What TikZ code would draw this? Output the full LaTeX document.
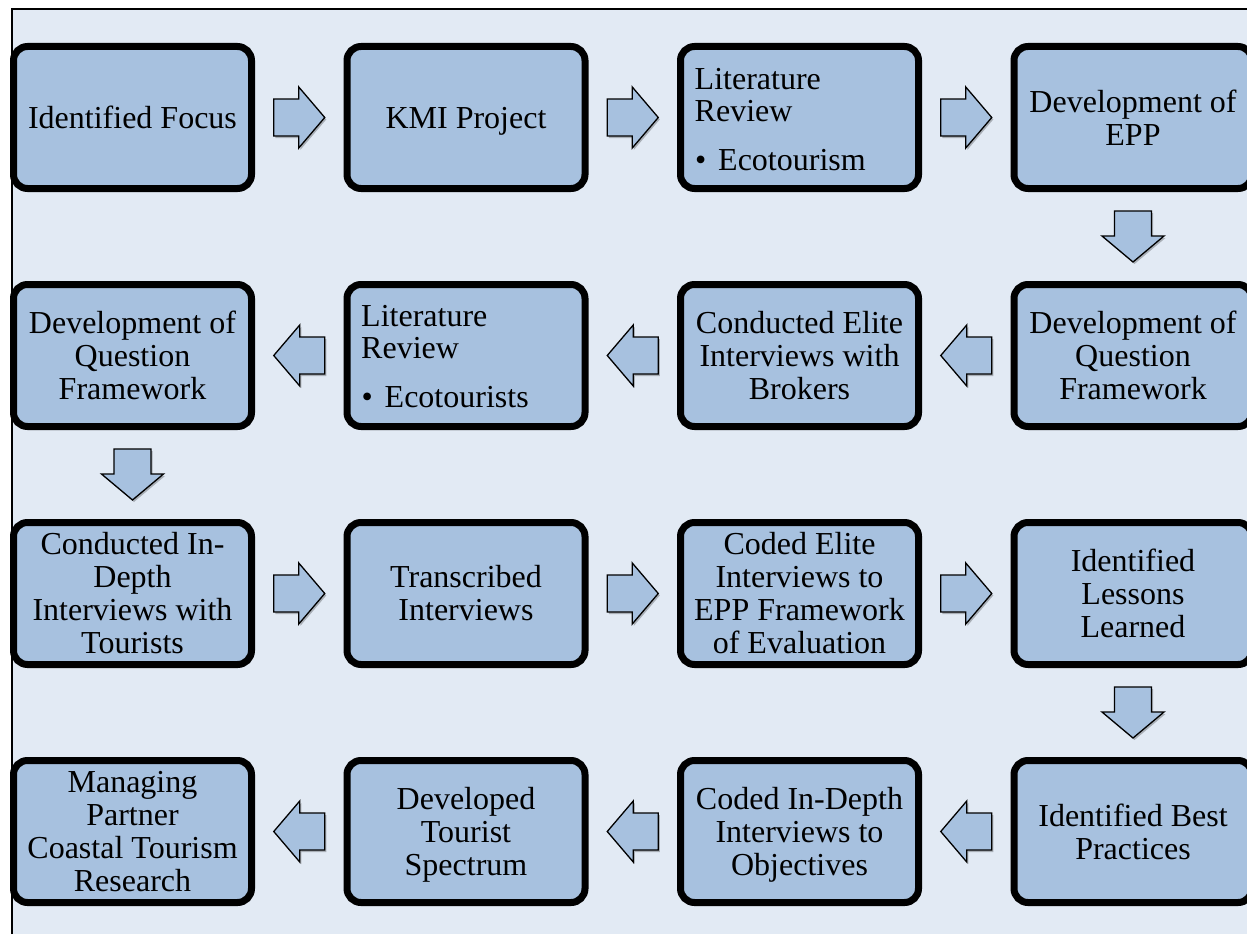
\documentclass[tikz,border=0pt]{standalone}
\usepackage{fontspec}
\setmainfont{Liberation Serif}
\usetikzlibrary{calc,shadows}
\definecolor{bgblue}{RGB}{226,234,244}
\definecolor{boxblue}{RGB}{167,193,223}
\tikzset{
  stepbox/.style={draw=black, line width=7pt, fill=boxblue, rounded corners=14pt,
    minimum width=238pt, minimum height=142pt, inner sep=1pt, align=center,
    font=\fontsize{32}{33}\selectfont,
    drop shadow={shadow xshift=2pt, shadow yshift=-3pt, opacity=0.25, fill=black}},
  littext/.style={anchor=base west, inner sep=0pt, font=\fontsize{32}{33}\selectfont},
  blockarrow/.style={draw=black, line width=1.3pt, fill=boxblue, line join=miter,
    drop shadow={shadow xshift=1.5pt, shadow yshift=-2pt, opacity=0.25, fill=black}},
}
\newcommand\rarrowat[1]{\draw[blockarrow, shift={(#1)}] (-25.5,-18.5) -- (-0.5,-18.5) -- (-0.5,-30.5) -- (25.5,0) -- (-0.5,30.5) -- (-0.5,18.5) -- (-25.5,18.5) -- cycle;}
\newcommand\larrowat[1]{\draw[blockarrow, shift={(#1)}] (25.5,-18.5) -- (0.5,-18.5) -- (0.5,-30.5) -- (-25.5,0) -- (0.5,30.5) -- (0.5,18.5) -- (25.5,18.5) -- cycle;}
\newcommand\darrowat[1]{\draw[blockarrow, shift={(#1)}] (-18.5,-25.5) -- (-18.5,-0.5) -- (-31,-0.5) -- (0,25.5) -- (31,-0.5) -- (18.5,-0.5) -- (18.5,-25.5) -- cycle;}
\begin{document}
\begin{tikzpicture}[x=1pt,y=-1pt]
\useasboundingbox (0,0) rectangle (1247,934);
\fill[white] (0,0) rectangle (1247,934);
\fill[bgblue] (12,9) rectangle (1247,934);
\draw[line width=1.2pt, black] (12,934) -- (12,9) -- (1247,9);
% row 1
\node[stepbox] (b11) at (132.5,117.5) {Identified Focus};
\node[stepbox, text depth=0pt] (b12) at (466,117.5) {KMI Project};
\node[stepbox] (b13) at (799.5,117.5) {};
\node[stepbox] (b14) at (1133,117.5) {Development of\\EPP};
% row 2
\node[stepbox] (b24) at (1133,355.5) {Development of\\Question\\Framework};
\node[stepbox] (b23) at (799.5,355.5) {Conducted Elite\\Interviews with\\Brokers};
\node[stepbox] (b22) at (466,355.5) {};
\node[stepbox] (b21) at (132.5,355.5) {Development of\\Question\\Framework};
% row 3
\node[stepbox] (b31) at (132.5,593.5) {Conducted In-\\Depth\\Interviews with\\Tourists};
\node[stepbox] (b32) at (466,593.5) {Transcribed\\Interviews};
\node[stepbox] (b33) at (799.5,593.5) {Coded Elite\\Interviews to\\EPP Framework\\of Evaluation};
\node[stepbox] (b34) at (1133,593.5) {Identified\\Lessons\\Learned};
% row 4
\node[stepbox] (b44) at (1133,831.5) {Identified Best\\Practices};
\node[stepbox, text depth=0pt] (b43) at (799.5,831.5) {Coded In-Depth\\Interviews to\\Objectives};
\node[stepbox, text depth=0pt] (b42) at (466,831.5) {Developed\\Tourist\\Spectrum};
\node[stepbox] (b41) at (132.5,831.5) {Managing\\Partner\\Coastal Tourism\\Research};
% literature review texts
\node[littext] (l13a) at ($(b13.north west)+(17.5,46)$) {Literature};
\node[littext] (l13b) at ($(b13.north west)+(17.5,78)$) {Review};
\node[littext] (l13c) at ($(b13.north west)+(18,127)$) {•};
\node[littext] (l13d) at ($(b13.north west)+(41,127)$) {Ecotourism};
\node[littext] (l22a) at ($(b22.north west)+(17.5,45)$) {Literature};
\node[littext] (l22b) at ($(b22.north west)+(17.5,77)$) {Review};
\node[littext] (l22c) at ($(b22.north west)+(18,126)$) {•};
\node[littext] (l22d) at ($(b22.north west)+(41,126)$) {Ecotourists};
% connector positions
\coordinate (a1112) at ($(b11.east)!0.5!(b12.west)$);
\coordinate (a1213) at ($(b12.east)!0.5!(b13.west)$);
\coordinate (a1314) at ($(b13.east)!0.5!(b14.west)$);
\coordinate (a1424) at ($(b14.south)!0.5!(b24.north)$);
\coordinate (a2423) at ($(b24.west)!0.5!(b23.east)$);
\coordinate (a2322) at ($(b23.west)!0.5!(b22.east)$);
\coordinate (a2221) at ($(b22.west)!0.5!(b21.east)$);
\coordinate (a2131) at ($(b21.south)!0.5!(b31.north)$);
\coordinate (a3132) at ($(b31.east)!0.5!(b32.west)$);
\coordinate (a3233) at ($(b32.east)!0.5!(b33.west)$);
\coordinate (a3334) at ($(b33.east)!0.5!(b34.west)$);
\coordinate (a3444) at ($(b34.south)!0.5!(b44.north)$);
\coordinate (a4443) at ($(b44.west)!0.5!(b43.east)$);
\coordinate (a4342) at ($(b43.west)!0.5!(b42.east)$);
\coordinate (a4241) at ($(b42.west)!0.5!(b41.east)$);
\rarrowat{a1112}
\rarrowat{a1213}
\rarrowat{a1314}
\darrowat{a1424}
\larrowat{a2423}
\larrowat{a2322}
\larrowat{a2221}
\darrowat{a2131}
\rarrowat{a3132}
\rarrowat{a3233}
\rarrowat{a3334}
\darrowat{a3444}
\larrowat{a4443}
\larrowat{a4342}
\larrowat{a4241}
\end{tikzpicture}
\end{document}
